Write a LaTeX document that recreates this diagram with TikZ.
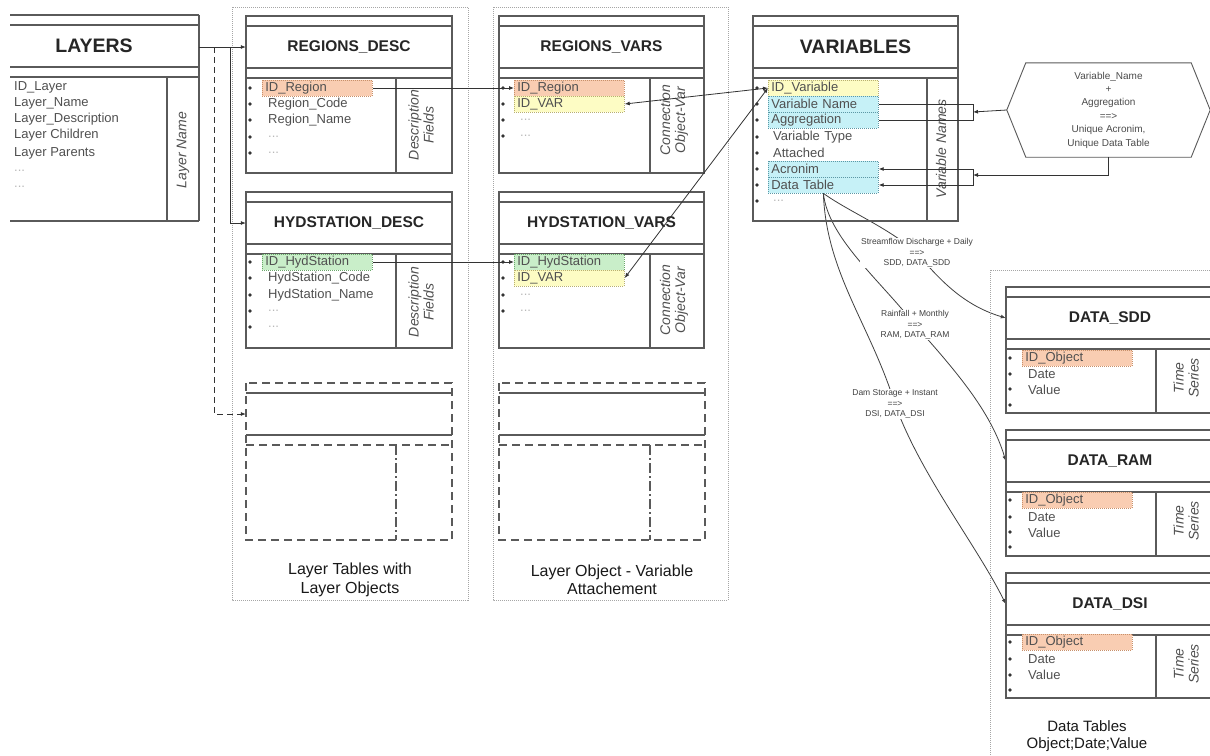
\documentclass[tikz,border=0pt]{standalone}
\usepackage{fontspec}
\setmainfont{Liberation Sans}
\usetikzlibrary{arrows.meta,backgrounds}

\definecolor{frameln}{HTML}{5A5A5A}
\definecolor{fieldtx}{HTML}{505050}
\definecolor{salmonf}{HTML}{F9CDB2}
\definecolor{salmond}{HTML}{C8906A}
\definecolor{lemonf}{HTML}{FDFCC4}
\definecolor{lemond}{HTML}{B8B070}
\definecolor{aquaf}{HTML}{C6F1F7}
\definecolor{aquad}{HTML}{5C98A6}
\definecolor{mintf}{HTML}{C9EEC9}
\definecolor{mintd}{HTML}{6AA86A}

\tikzset{
  tline/.style={draw=frameln, line width=1.1pt},
  dline/.style={tline, dash pattern=on 8pt off 5pt},
  ddline/.style={tline, dash pattern=on 10pt off 3pt on 2pt off 3pt},
  gframe/.style={draw=gray!70, line width=0.8pt, dash pattern=on 1pt off 1pt},
  hcell/.style={minimum height=42pt, inner sep=0pt},
  bigtitle/.style={font=\bfseries\fontsize{19.5}{22}\selectfont, text=black!85},
  tabtitle/.style={hcell, font=\bfseries\fontsize{15.5}{18}\selectfont, text=black!85},
  fld/.style={anchor=west, inner xsep=3pt, inner ysep=0pt, minimum height=16pt,
              text=fieldtx, font=\fontsize{13}{15}\selectfont},
  ellip/.style={fld, text=gray!55},
  hl/.style={fld, draw=#1d, fill=#1f, dash pattern=on 1pt off 1pt, line width=0.7pt, text width=104pt},
  sidelbl/.style={rotate=90, align=center, text=fieldtx, font=\itshape\fontsize{14}{15}\selectfont},
  conn/.style={draw=black!80, line width=0.8pt, -{Latex[length=5pt,width=4pt]}},
  twoway/.style={conn, {Latex[length=5pt,width=4pt]}-{Latex[length=5pt,width=4pt]}},
  plainconn/.style={draw=black!80, line width=0.8pt},
  flowcurve/.style={draw=black!75, line width=0.8pt},
  elabel/.style={fill=white, inner sep=1pt, align=center, text=black!75,
                 font=\fontsize{8.5}{10.5}\selectfont},
  glabel/.style={align=center, text=black!90, font=\fontsize{16}{18.5}\selectfont},
  hexnode/.style={minimum width=203pt, minimum height=94pt, inner sep=0pt, align=center,
                  text=black!70, font=\fontsize{10}{13.4}\selectfont},
}

% table frame: x-left, x-right, y-top, y-bottom, x of the side column
\newcommand\tabframe[5]{%
  \draw[tline] (#1,#3) rectangle (#2,#4);
  \draw[tline] (#1,#3+10) -- (#2,#3+10) (#1,#3+52) -- (#2,#3+52)
               (#1,#3+62) -- (#2,#3+62) (#5,#3+62) -- (#5,#4);}
% row bullets: x, list of y
\newcommand\bulletsat[2]{\foreach \yy in {#2}{\fill[black!80] (#1,\yy) circle (1.8pt);}}
% dashed template table: x-left, x-right, x of the side column
\newcommand\templateframe[3]{%
  \draw[dline] (#1,383) rectangle (#2,540);
  \draw[dline] (#1,445) -- (#2,445);
  \draw[tline] (#1,393) -- (#2,393) (#1,435) -- (#2,435);
  \draw[ddline] (#3,445) -- (#3,540);}

\begin{document}
\begin{tikzpicture}[x=1pt,y=-1pt]
\useasboundingbox (0,0) rectangle (1210,755);
\clip (0,0) rectangle (1210,755);
\begin{pgfonlayer}{background}
  \fill[white] (0,0) rectangle (1210,755);
\end{pgfonlayer}

% grouping frames
\draw[gframe] (232,7) rectangle (468,600);
\draw[gframe] (493,7) rectangle (728,600);
\draw[gframe] (990,270) rectangle (1225,775);

% ---------------- LAYERS
\draw[tline] (10,15) -- (199,15) (10,25) -- (199,25) (10,67) -- (199,67)
             (10,77) -- (199,77) (10,221) -- (199,221) (199,15) -- (199,221)
             (167,77) -- (167,221);
\node[hcell, minimum width=189pt] (lay) at (104.5,47) {};
\node[bigtitle] (laytxt) at (94,46) {LAYERS};
\node[fld] (l1) at (11,87) {ID\_Layer};
\node[fld] (l2) at (11,103) {Layer\_Name};
\node[fld] (l3) at (11,119) {Layer\_Description};
\node[fld] (l4) at (11,135) {Layer Children};
\node[fld] (l5) at (11,153) {Layer Parents};
\node[ellip] (l6) at (11,171) {...};
\node[ellip] (l7) at (11,187) {...};
\node[sidelbl] (lays) at (183,150) {Layer Name};

% ---------------- REGIONS_DESC
\tabframe{246}{452}{16}{173}{396}
\node[tabtitle, minimum width=206pt] (rd) at (349,47) {REGIONS\_DESC};
\bulletsat{250}{88,104,120,137,153}
\node[hl=salmon] (rdid) at (262,88) {ID\_Region};
\node[fld] (rdc) at (265,104) {Region\_Code};
\node[fld] (rdn) at (265,120) {Region\_Name};
\node[ellip] (rde1) at (265,137) {...};
\node[ellip] (rde2) at (265,153) {...};
\node[sidelbl] (rds) at (421,125) {Description\\Fields};

% ---------------- REGIONS_VARS
\tabframe{499}{704}{16}{173}{650}
\node[tabtitle, minimum width=205pt] (rv) at (601.5,47) {REGIONS\_VARS};
\bulletsat{503}{88,104,120,136}
\node[hl=salmon] (rvid) at (514,88) {ID\_Region};
\node[hl=lemon] (rvvar) at (514,104) {ID\_VAR};
\node[ellip] (rve1) at (517,120) {...};
\node[ellip] (rve2) at (517,136) {...};
\node[sidelbl] (rvs) at (674,120) {Connection\\Object-Var};

% ---------------- VARIABLES
\tabframe{753}{958}{16}{221}{927}
\node[hcell, minimum width=205pt, bigtitle] (var) at (855.5,47) {VARIABLES};
\bulletsat{757}{88,104,120,137,153,169,185,201}
\begin{scope}[every node/.append style={text width=106pt, font=\fontsize{14}{15}\selectfont}]
\node[hl=lemon] (vid) at (768,88) {ID\_Variable};
\node[hl=aqua] (vname) at (768,104) {Variable Name};
\node[hl=aqua] (vagg) at (768,120) {Aggregation};
\node[fld] (vtype) at (770,137) {Variable Type};
\node[fld] (vatt) at (770,153) {Attached};
\node[hl=aqua] (vacr) at (768,169) {Acronim};
\node[hl=aqua] (vdt) at (768,185) {Data Table};
\node[ellip] (vetc) at (770,201) {...};
\end{scope}
\node[sidelbl] (vs) at (941,149) {Variable Names};

% ---------------- naming rule
\node[hexnode] (hex) at (1108.5,110)
  {Variable\_Name\\+\\Aggregation\\==>\\Unique Acronim,\\Unique Data Table};
\draw[tline, line width=0.9pt] (hex.west) -- ([xshift=19]hex.north west)
  -- ([xshift=-19]hex.north east) -- (hex.east) -- ([xshift=-19]hex.south east)
  -- ([xshift=19]hex.south west) -- cycle;
\coordinate (bra) at (973,112);
\coordinate (brb) at (973,175);
\draw[plainconn] (vname.east) -| (bra) |- (vagg.east);
\draw[conn] (hex.west) -- (bra);
\draw[conn] (hex.south) |- (brb);
\draw[conn] (brb) |- (vacr.east);
\draw[conn] (brb) |- (vdt.east);

% ---------------- HYDSTATION_DESC
\tabframe{246}{452}{192}{348}{396}
\node[tabtitle, minimum width=206pt] (hd) at (349,223) {HYDSTATION\_DESC};
\bulletsat{250}{262,278,295,311,327}
\node[hl=mint] (hdid) at (262,262) {ID\_HydStation};
\node[fld] (hdc) at (265,278) {HydStation\_Code};
\node[fld] (hdn) at (265,295) {HydStation\_Name};
\node[ellip] (hde1) at (265,311) {...};
\node[ellip] (hde2) at (265,327) {...};
\node[sidelbl] (hds) at (421,302) {Description\\Fields};

% ---------------- HYDSTATION_VARS
\tabframe{499}{704}{192}{348}{650}
\node[tabtitle, minimum width=205pt] (hv) at (601.5,223) {HYDSTATION\_VARS};
\bulletsat{503}{262,278,295,311}
\node[hl=mint] (hvid) at (514,262) {ID\_HydStation};
\node[hl=lemon] (hvvar) at (514,278) {ID\_VAR};
\node[ellip] (hve1) at (517,295) {...};
\node[ellip] (hve2) at (517,311) {...};
\node[sidelbl] (hvs) at (674,300) {Connection\\Object-Var};

% ---------------- template tables
\templateframe{246}{452}{396}
\node[hcell, minimum width=206pt] (t1) at (349,414) {};
\templateframe{499}{705}{650}
\node[hcell, minimum width=206pt] (t2) at (602,414) {};

\node[glabel] (g1) at (350,580) {Layer Tables with\\Layer Objects};
\node[glabel] (g2) at (612,580) {Layer Object - Variable\\Attachement};

% ---------------- data tables
\tabframe{1006}{1214}{287}{413}{1156}
\node[tabtitle, minimum width=208pt] (sdd) at (1110,318) {DATA\_SDD};
\bulletsat{1010}{358,374,389,405}
\node[hl=salmon] (sddid) at (1022,358) {ID\_Object};
\node[fld] (sdd2) at (1025,374) {Date};
\node[fld] (sdd3) at (1025,390) {Value};
\node[sidelbl] (sdds) at (1186,378) {Time\\Series};

\tabframe{1006}{1214}{430}{556}{1156}
\node[tabtitle, minimum width=208pt] (ram) at (1110,461) {DATA\_RAM};
\bulletsat{1010}{500,517,532,547}
\node[hl=salmon] (ramid) at (1022,500) {ID\_Object};
\node[fld] (ram2) at (1025,517) {Date};
\node[fld] (ram3) at (1025,533) {Value};
\node[sidelbl] (rams) at (1186,521) {Time\\Series};

\tabframe{1006}{1214}{573}{698}{1156}
\node[tabtitle, minimum width=208pt] (dsi) at (1110,604) {DATA\_DSI};
\bulletsat{1010}{642,659,675,690}
\node[hl=salmon] (dsiid) at (1022,642) {ID\_Object};
\node[fld] (dsi2) at (1025,659) {Date};
\node[fld] (dsi3) at (1025,675) {Value};
\node[sidelbl] (dsis) at (1186,664) {Time\\Series};

\node[glabel, font=\fontsize{15}{17.5}\selectfont] (g3) at (1087,736) {Data Tables\\Object;Date;Value};

% ---------------- layer links
\coordinate (j1) at (230,47);
\coordinate (j2) at (214,47);
\draw[conn] (lay.east) -- (rd.west);
\draw[conn] (j1) |- (hd.west);
\draw[conn, dash pattern=on 6pt off 4pt] (j2) |- (t1.west);

\draw[conn] (rdid.east) -- (rvid.west);
\draw[conn] (hdid.east) -- (hvid.west);
\draw[twoway] (vid.west) -- (rvvar.east);
\draw[twoway] (vid.west) -- (hvvar.east);

% ---------------- data table routing
\node[elabel] (lb1) at (917,253) {Streamflow Discharge + Daily\\==>\\SDD, DATA\_SDD};
\node[elabel] (lb2) at (915,325) {Rainfall + Monthly\\==>\\RAM, DATA\_RAM};
\node[elabel] (lb3) at (895,404) {Dam Storage + Instant\\==>\\DSI, DATA\_DSI};
\begin{pgfonlayer}{background}
\draw[flowcurve] (vdt.south) .. controls +(25,18) and +(-28,-25) .. (lb1.center);
\draw[flowcurve, -{Latex[length=5pt,width=4pt]}] (lb1.center) .. controls +(25,30) and +(-40,-12) .. (sdd.west);
\draw[flowcurve] (vdt.south) .. controls +(5,45) and +(-35,-45) .. (lb2.center);
\draw[flowcurve, -{Latex[length=5pt,width=4pt]}] (lb2.center) .. controls +(40,45) and +(-15,-50) .. (ram.west);
\draw[flowcurve] (vdt.south) .. controls +(3,80) and +(-25,-80) .. (lb3.center);
\draw[flowcurve, -{Latex[length=5pt,width=4pt]}] (lb3.center) .. controls +(25,70) and +(-30,-60) .. (dsi.west);
\end{pgfonlayer}
\end{tikzpicture}
\end{document}
